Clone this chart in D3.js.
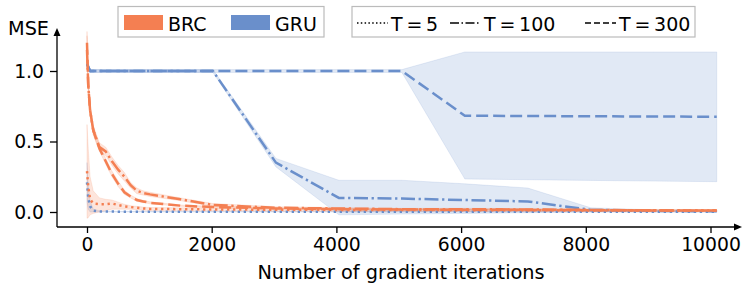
<!DOCTYPE html>
<html><head><meta charset="utf-8">
<script src="https://cdn.jsdelivr.net/npm/d3@7"></script>
<style>body{margin:0;background:#fff;}svg{display:block;font-family:"DejaVu Sans",sans-serif;}</style>
</head><body><svg id="c" width="743" height="284"></svg>
<script>
// ---- data ----
const xTicks = [0, 2000, 4000, 6000, 8000, 10000];
const yTicks = [0.0, 0.5, 1.0];
const xFine = [0, 20, 50, 100, 200, 300, 400, 500, 600, 700, 800, 900, 1010, 1500, 2020, 3030, 4040, 5050, 6060, 7070, 8080, 9090, 10100];
const xGru = [0, 50, 1010, 2020, 3030, 4040, 5050, 6060, 7070, 8080, 9090, 10100];

const brcT5 =    [0.29, 0.18, 0.09, 0.06, 0.055, 0.055, 0.06, 0.05, 0.04, 0.035, 0.03, 0.025, 0.022, 0.02, 0.018, 0.016, 0.015, 0.014, 0.013, 0.012, 0.011, 0.01, 0.01];
const brcT5Lo =  [-0.045, -0.04, -0.02, -0.01, 0.0, 0.01, 0.02, 0.02, 0.02, 0.02, 0.015, 0.012, 0.01, 0.01, 0.008, 0.006, 0.005, 0.005, 0.004, 0.004, 0.004, 0.003, 0.003];
const brcT5Hi =  [0.62, 0.45, 0.25, 0.15, 0.1, 0.09, 0.085, 0.07, 0.055, 0.045, 0.04, 0.035, 0.032, 0.03, 0.028, 0.026, 0.025, 0.023, 0.022, 0.02, 0.018, 0.017, 0.017];
const brcT100 =  [1.15, 0.9, 0.72, 0.58, 0.46, 0.43, 0.36, 0.30, 0.25, 0.19, 0.15, 0.135, 0.125, 0.09, 0.05, 0.03, 0.025, 0.02, 0.02, 0.018, 0.015, 0.012, 0.01];
const brcT100Lo = [1.05, 0.85, 0.69, 0.55, 0.43, 0.40, 0.33, 0.27, 0.22, 0.17, 0.13, 0.12, 0.11, 0.08, 0.04, 0.022, 0.018, 0.014, 0.014, 0.012, 0.01, 0.008, 0.006];
const brcT100Hi = [1.25, 0.95, 0.75, 0.61, 0.49, 0.46, 0.39, 0.33, 0.28, 0.21, 0.17, 0.15, 0.14, 0.1, 0.06, 0.038, 0.032, 0.026, 0.026, 0.024, 0.02, 0.016, 0.014];
const brcT300 =  [1.2, 0.9, 0.72, 0.58, 0.45, 0.36, 0.27, 0.20, 0.14, 0.11, 0.085, 0.075, 0.065, 0.045, 0.035, 0.025, 0.02, 0.018, 0.016, 0.015, 0.013, 0.011, 0.01];
const brcT300Lo = [1.1, 0.86, 0.69, 0.55, 0.43, 0.34, 0.25, 0.18, 0.125, 0.1, 0.075, 0.067, 0.058, 0.04, 0.03, 0.02, 0.016, 0.014, 0.012, 0.011, 0.01, 0.008, 0.007];
const brcT300Hi = [1.28, 0.94, 0.75, 0.61, 0.47, 0.38, 0.29, 0.22, 0.155, 0.12, 0.095, 0.083, 0.072, 0.05, 0.04, 0.03, 0.024, 0.022, 0.02, 0.019, 0.016, 0.014, 0.013];

const gruT5 =    [0.21, 0.1, 0.04, 0.01, 0.004, 0.003, 0.003, 0.002, 0.002, 0.002, 0.002, 0.002, 0.002, 0.002, 0.002, 0.002, 0.002, 0.002, 0.002, 0.002, 0.002, 0.002, 0.002];
const gruT5Lo =  [0.07, 0.02, 0.0, 0.0, 0.0, 0.0, 0.0, 0.0, 0.0, 0.0, 0.0, 0.0, 0.0, 0.0, 0.0, 0.0, 0.0, 0.0, 0.0, 0.0, 0.0, 0.0, 0.0];
const gruT5Hi =  [0.35, 0.2, 0.08, 0.02, 0.008, 0.006, 0.005, 0.004, 0.004, 0.004, 0.004, 0.004, 0.004, 0.004, 0.004, 0.004, 0.004, 0.004, 0.004, 0.004, 0.004, 0.004, 0.004];
const gruT100 =  [1.05, 1.0, 1.0, 1.0, 0.35, 0.10, 0.095, 0.085, 0.075, 0.015, 0.008, 0.005];
const gruT100Lo = [1.03, 0.99, 0.99, 0.99, 0.32, -0.02, -0.015, -0.01, -0.005, 0.0, 0.0, 0.0];
const gruT100Hi = [1.07, 1.01, 1.01, 1.01, 0.38, 0.225, 0.225, 0.2, 0.17, 0.03, 0.015, 0.01];
const gruT300 =  [1.05, 1.0, 1.0, 1.0, 1.0, 1.0, 1.0, 0.683, 0.681, 0.679, 0.677, 0.676];
const gruT300Lo = [1.03, 0.99, 0.99, 0.99, 0.99, 0.99, 0.99, 0.234, 0.229, 0.224, 0.219, 0.215];
const gruT300Hi = [1.07, 1.01, 1.01, 1.01, 1.01, 1.01, 1.01, 1.135, 1.135, 1.135, 1.135, 1.135];

const models = ["BRC", "GRU"];
const horizons = ["T = 5", "T = 100", "T = 300"];
const colors = {BRC: "#f47f52", GRU: "#6a8fcb"};

// ---- drawing ----
const svg = d3.select("#c");
const x = d3.scaleLinear().domain([0, 10000]).range([87, 710.5]);
const y = d3.scaleLinear().domain([0, 1]).range([212, 71]);
const axisLeftX = 57, axisBottomY = 227;

const dashes = {"T = 5": "2.3,3.7", "T = 100": "14,3.6,2.3,3.6", "T = 300": "12,5"};

const series = [
  {m: "GRU", t: "T = 300", xs: xGru, v: gruT300, lo: gruT300Lo, hi: gruT300Hi},
  {m: "GRU", t: "T = 100", xs: xGru, v: gruT100, lo: gruT100Lo, hi: gruT100Hi},
  {m: "GRU", t: "T = 5", xs: xFine, v: gruT5, lo: gruT5Lo, hi: gruT5Hi},
  {m: "BRC", t: "T = 300", xs: xFine, v: brcT300, lo: brcT300Lo, hi: brcT300Hi},
  {m: "BRC", t: "T = 100", xs: xFine, v: brcT100, lo: brcT100Lo, hi: brcT100Hi},
  {m: "BRC", t: "T = 5", xs: xFine, v: brcT5, lo: brcT5Lo, hi: brcT5Hi},
];

const area = d3.area().x(d => x(d.x)).y0(d => y(d.lo)).y1(d => y(d.hi));
const line = d3.line().x(d => x(d.x)).y(d => y(d.v));

series.forEach(s => {
  const pts = s.xs.map((xx, i) => ({x: xx, v: s.v[i], lo: s.lo[i], hi: s.hi[i]}));
  svg.append("path").attr("d", area(pts)).attr("fill", colors[s.m]).attr("fill-opacity", 0.2)
    .attr("stroke", colors[s.m]).attr("stroke-opacity", 0.15).attr("stroke-width", 1);
});
series.forEach(s => {
  const pts = s.xs.map((xx, i) => ({x: xx, v: s.v[i]}));
  svg.append("path").attr("d", line(pts)).attr("fill", "none").attr("stroke", colors[s.m])
    .attr("stroke-width", 2.5).attr("stroke-dasharray", dashes[s.t]);
});

// axes
const gx = svg.append("g").attr("transform", `translate(0,${axisBottomY})`)
  .call(d3.axisBottom(x).tickValues(xTicks).tickFormat(d3.format("d")).tickSize(6).tickPadding(5));
gx.select(".domain").remove();
gx.selectAll("text").attr("font-size", 18.8).attr("font-family", "DejaVu Sans").attr("fill", "#000");
gx.selectAll("line").attr("stroke", "#000").attr("stroke-width", 1.3);

const gy = svg.append("g").attr("transform", `translate(${axisLeftX},0)`)
  .call(d3.axisLeft(y).tickValues(yTicks).tickFormat(d3.format(".1f")).tickSize(7).tickPadding(6));
gy.select(".domain").remove();
gy.selectAll("text").attr("font-size", 18.8).attr("font-family", "DejaVu Sans").attr("fill", "#000");
gy.selectAll("line").attr("stroke", "#000").attr("stroke-width", 1.3);

svg.append("line").attr("x1", axisLeftX).attr("x2", 736).attr("y1", axisBottomY).attr("y2", axisBottomY)
  .attr("stroke", "#000").attr("stroke-width", 1.3);
svg.append("path").attr("d", `M742,${axisBottomY} L734,${axisBottomY-3.5} L734,${axisBottomY+3.5} Z`).attr("fill", "#000");
svg.append("line").attr("x1", axisLeftX).attr("x2", axisLeftX).attr("y1", axisBottomY).attr("y2", 34)
  .attr("stroke", "#000").attr("stroke-width", 1.3);
svg.append("path").attr("d", `M${axisLeftX},28 L${axisLeftX-3.5},36 L${axisLeftX+3.5},36 Z`).attr("fill", "#000");

svg.append("text").attr("x", 8).attr("y", 35).attr("font-size", 19.3).text("MSE");
svg.append("text").attr("x", 401).attr("y", 278.5).attr("text-anchor", "middle").attr("font-size", 19.3)
  .text("Number of gradient iterations");

// legend 1
const l1 = svg.append("g");
l1.append("rect").attr("x", 118).attr("y", 6.5).attr("width", 206).attr("height", 30.5)
  .attr("fill", "#fff").attr("fill-opacity", 0.85).attr("stroke", "#bbb").attr("stroke-width", 1.2);
const l1pos = [124, 231];
models.forEach((m, i) => {
  l1.append("rect").attr("x", l1pos[i]).attr("y", 15).attr("width", 39).attr("height", 15).attr("fill", colors[m]);
  l1.append("text").attr("x", l1pos[i] + 44).attr("y", 30.5).attr("font-size", 19).text(m);
});
// legend 2
const l2 = svg.append("g");
l2.append("rect").attr("x", 352).attr("y", 6.5).attr("width", 343).attr("height", 30.5)
  .attr("fill", "#fff").attr("fill-opacity", 0.85).attr("stroke", "#bbb").attr("stroke-width", 1.2);
const l2pos = [357, 450, 585];
const legDash = {"T = 5": "1.5,2.3", "T = 100": "9,2.5,1.5,2.5", "T = 300": "6,3"};
horizons.forEach((t, i) => {
  l2.append("line").attr("x1", l2pos[i]).attr("x2", l2pos[i] + 31).attr("y1", 23).attr("y2", 23)
    .attr("stroke", "#000").attr("stroke-width", 1.5).attr("stroke-dasharray", legDash[t]);
  l2.append("text").attr("x", l2pos[i] + 34).attr("y", 30.5).attr("font-size", 19).attr("xml:space", "preserve")
    .text(t.replace(/ /g, "\u2009"));
});
</script></body></html>
